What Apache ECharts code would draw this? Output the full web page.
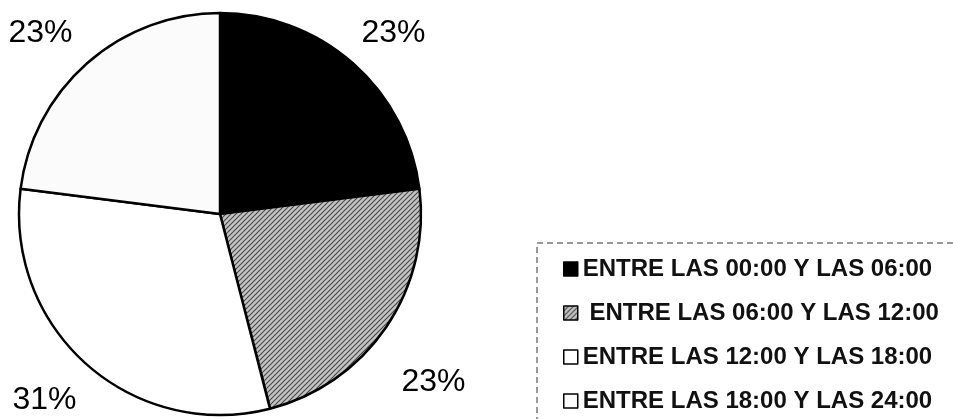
<!DOCTYPE html>
<html>
<head>
<meta charset="utf-8">
<script src="https://cdn.jsdelivr.net/npm/echarts@6/dist/echarts.min.js"></script>
<style>html,body{margin:0;padding:0;background:#fff}#c{width:953px;height:419px}</style>
</head>
<body>
<div id="c"></div>
<script>
var categories = ['ENTRE LAS 00:00 Y LAS 06:00', ' ENTRE LAS 06:00 Y LAS 12:00', 'ENTRE LAS 12:00 Y LAS 18:00', 'ENTRE LAS 18:00 Y LAS 24:00'];
var values = [23, 23, 31, 23];

// styles (kept separate from data)
function hatch() {
  var c = document.createElement('canvas');
  c.width = 5; c.height = 5;
  var g = c.getContext('2d');
  g.fillStyle = '#c4c4c4';
  g.fillRect(0, 0, 5, 5);
  g.strokeStyle = '#4a4a4a';
  g.lineWidth = 1.2;
  g.beginPath();
  g.moveTo(0, 5); g.lineTo(5, 0);
  g.moveTo(-2.5, 2.5); g.lineTo(2.5, -2.5);
  g.moveTo(2.5, 7.5); g.lineTo(7.5, 2.5);
  g.stroke();
  return c;
}
var fills = ['#000000', { image: hatch(), repeat: 'repeat' }, '#ffffff', '#fbfbfb'];
var labelOffsets = [[-15, -9], [-13, 39], [13, 14], [9, -9]];

var data = categories.map(function (n, i) {
  return {
    name: n,
    value: values[i],
    itemStyle: { color: fills[i] },
    label: { offset: labelOffsets[i] }
  };
});

var chart = echarts.init(document.getElementById('c'), null, { renderer: 'canvas' });
chart.setOption({
  animation: false,
  backgroundColor: '#ffffff',
  legend: {
    orient: 'vertical',
    left: 558,
    top: 252,
    itemWidth: 14,
    itemHeight: 14,
    itemGap: 20,
    icon: 'rect',
    itemStyle: { borderColor: '#000', borderWidth: 1.5 },
    textStyle: { fontFamily: 'Liberation Sans, Arial, sans-serif', fontSize: 24, fontWeight: 'bold', color: '#111', padding: [0, 0, 0, 0] },
    data: categories
  },
  graphic: [{
    type: 'rect',
    shape: { x: 537, y: 243, width: 430, height: 200 },
    style: { fill: 'none', stroke: '#333', lineWidth: 1, lineDash: [6, 4] },
    silent: true
  }],
  series: [{
    type: 'pie',
    center: [220, 214],
    radius: 201,
    startAngle: 90,
    clockwise: true,
    avoidLabelOverlap: false,
    itemStyle: { borderColor: '#000', borderWidth: 2.5 },
    label: {
      show: true,
      position: 'outside',
      formatter: '{c}%',
      fontFamily: 'Liberation Sans, Arial, sans-serif',
      fontSize: 32,
      color: '#000'
    },
    labelLine: { show: false, length: 28, length2: 0 },
    emphasis: { disabled: true },
    data: data
  }]
});
</script>
</body>
</html>
